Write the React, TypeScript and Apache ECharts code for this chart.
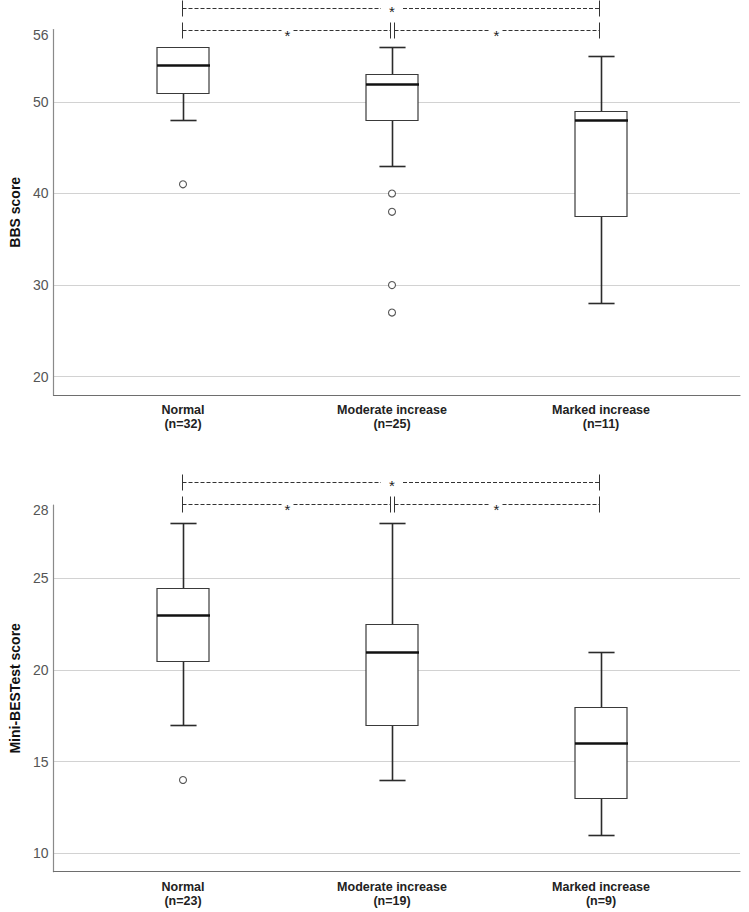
import { useEffect, useRef } from "react";
import * as echarts from "echarts";

// ---------- data ----------
const groups = ["Normal", "Moderate increase", "Marked increase"];
const bbsN = [32, 25, 11];
const miniN = [23, 19, 9];
// [lower whisker, Q1, median, Q3, upper whisker]
const bbsBoxes = [
  [48, 51, 54, 56, 56],
  [43, 48, 52, 53, 56],
  [28, 37.5, 48, 49, 55],
];
const bbsOutliers = [
  [0, 41],
  [1, 40],
  [1, 38],
  [1, 30],
  [1, 27],
];
const miniBoxes = [
  [17, 20.5, 23, 24.5, 28],
  [14, 17, 21, 22.5, 28],
  [11, 13, 16, 18, 21],
];
const miniOutliers = [[0, 14]];
const bbsTicks = [20, 30, 40, 50];
const bbsTopTick = "56";
const miniTicks = [10, 15, 20, 25];
const miniTopTick = "28";
const bbsRange = [18, 57.9];
const miniRange = [9, 29];
// [from group, to group, row, label]
const comparisons: [number, number, number, string][] = [
  [0, 2, 0, "*"],
  [0, 1, 1, "*"],
  [1, 2, 1, "*"],
];

const FONT = "'Liberation Sans', Arial, Helvetica, sans-serif";

const panels = [
  {
    name: "BBS score",
    boxes: bbsBoxes,
    outliers: bbsOutliers,
    n: bbsN,
    ticks: bbsTicks,
    topTick: bbsTopTick,
    range: bbsRange,
    top: 29.5,
    height: 365.5,
    rowY: [8, 30],
  },
  {
    name: "Mini-BESTest score",
    boxes: miniBoxes,
    outliers: miniOutliers,
    n: miniN,
    ticks: miniTicks,
    topTick: miniTopTick,
    range: miniRange,
    top: 505,
    height: 366.7,
    rowY: [482, 504],
  },
];

function renderBox(params: any, api: any) {
  const i = api.value(0);
  const lo = api.value(1);
  const q1 = api.value(2);
  const md = api.value(3);
  const q3 = api.value(4);
  const hi = api.value(5);
  const band = api.size([1, 0])[0];
  const half = band * 0.125;
  const cap = band * 0.0625;
  const x = Math.round(api.coord([i, md])[0]) + 0.5;
  const y = (v: number) => Math.round(api.coord([i, v])[1]) + 0.5;
  const wStyle = { stroke: "#2b2b2b", lineWidth: 1.6, fill: null };
  const children: any[] = [];
  if (hi > q3) {
    children.push({ type: "line", shape: { x1: x, y1: y(q3), x2: x, y2: y(hi) }, style: wStyle });
    children.push({ type: "line", shape: { x1: x - cap, y1: y(hi), x2: x + cap, y2: y(hi) }, style: wStyle });
  }
  if (lo < q1) {
    children.push({ type: "line", shape: { x1: x, y1: y(q1), x2: x, y2: y(lo) }, style: wStyle });
    children.push({ type: "line", shape: { x1: x - cap, y1: y(lo), x2: x + cap, y2: y(lo) }, style: wStyle });
  }
  children.push({
    type: "rect",
    shape: { x: Math.round(x - half), y: y(q3), width: Math.round(2 * half), height: y(q1) - y(q3) },
    style: { fill: "#ffffff", stroke: "#3a3a3a", lineWidth: 1.2 },
  });
  children.push({
    type: "line",
    shape: { x1: Math.round(x - half), y1: y(md), x2: Math.round(x + half), y2: y(md) },
    style: { stroke: "#111111", lineWidth: 2.6 },
  });
  return { type: "group", children };
}

function buildOption() {
  const grid: any[] = [];
  const xAxis: any[] = [];
  const yAxis: any[] = [];
  const series: any[] = [];
  panels.forEach((p, pi) => {
    const [min, max] = p.range;
    grid.push({ left: 44, top: p.top, width: 696, height: p.height });
    grid.push({ left: 78.5, top: p.top, width: 627, height: p.height });
    const ga = pi * 2;
    const gb = pi * 2 + 1;
    xAxis.push({
      gridIndex: ga,
      type: "value",
      min: 0,
      max: 1,
      axisLine: { show: true, onZero: false, lineStyle: { color: "#6e6e6e", width: 1.2 } },
      axisTick: { show: false },
      axisLabel: { show: false },
      splitLine: { show: false },
    });
    xAxis.push({
      gridIndex: gb,
      type: "category",
      data: groups.map((g, i) => `${g}\n(n=${p.n[i]})`),
      axisLine: { show: false },
      axisTick: { show: false },
      splitLine: { show: false },
      axisLabel: {
        margin: 8,
        fontSize: 12.5,
        fontWeight: "bold",
        color: "#222",
        lineHeight: 14,
        fontFamily: FONT,
        interval: 0,
      },
    });
    yAxis.push({
      gridIndex: ga,
      type: "value",
      min,
      max,
      splitNumber: 4,
      name: p.name,
      nameLocation: "middle",
      nameGap: 28,
      nameTextStyle: { fontWeight: "bold", fontSize: 14, color: "#111", fontFamily: FONT },
      axisLine: { show: true, onZero: false, lineStyle: { color: "#8a8a8a", width: 1.2 } },
      axisTick: { show: false },
      splitLine: {
        show: true,
        showMinLine: false,
        showMaxLine: false,
        lineStyle: { color: "#d2d2d2", width: 1 },
      },
      axisLabel: {
        showMinLabel: false,
        showMaxLabel: true,
        margin: 5,
        fontSize: 14,
        color: "#555",
        fontFamily: FONT,
        formatter: (v: number) =>
          Math.abs(v - max) < 1e-6 ? `{top|${p.topTick}}` : p.ticks.includes(v) ? String(v) : "",
        rich: {
          top: { fontSize: 14, color: "#555", fontFamily: FONT, padding: [10, 0, 0, 0] },
        },
      },
    });
    yAxis.push({ gridIndex: gb, type: "value", min, max, show: false });
    series.push({
      type: "custom",
      xAxisIndex: gb,
      yAxisIndex: gb,
      renderItem: renderBox,
      data: p.boxes.map((b, i) => [i, ...b]),
      encode: { x: 0, y: [1, 2, 3, 4, 5] },
      z: 3,
    });
    series.push({
      type: "scatter",
      xAxisIndex: gb,
      yAxisIndex: gb,
      data: p.outliers,
      symbol: "circle",
      symbolSize: 7,
      itemStyle: { color: "#ffffff", borderColor: "#555", borderWidth: 1.1, opacity: 1 },
      z: 4,
    });
  });
  return {
    animation: false,
    backgroundColor: "#ffffff",
    textStyle: { fontFamily: FONT },
    grid,
    xAxis,
    yAxis,
    series,
  };
}

function buildBrackets(chart: any) {
  const els: any[] = [];
  panels.forEach((p, pi) => {
    const gb = pi * 2 + 1;
    const px = (i: number) => chart.convertToPixel({ xAxisIndex: gb }, i) as number;
    comparisons.forEach(([a, b, row, label]) => {
      const y = Math.round(p.rowY[row]) + 0.5;
      const shared = (g: number) =>
        comparisons.filter((c) => c[2] === row && (c[0] === g || c[1] === g)).length > 1;
      const x1 = Math.round(px(a) + (shared(a) ? 2 : -1)) + 0.5;
      const x2 = Math.round(px(b) + (shared(b) ? -2 : -2)) + 0.5;
      const mid = (px(a) + px(b)) / 2;
      const gap = row === 0 ? 11 : 6;
      const ls = { stroke: "#333", lineWidth: 1, lineDash: [4, 2] };
      els.push({ type: "line", silent: true, shape: { x1, y1: y, x2: mid - gap, y2: y }, style: ls });
      els.push({ type: "line", silent: true, shape: { x1: mid + gap, y1: y, x2, y2: y }, style: ls });
      els.push({ type: "line", silent: true, shape: { x1, y1: y - 8, x2: x1, y2: y + 8 }, style: { stroke: "#333", lineWidth: 1 } });
      els.push({ type: "line", silent: true, shape: { x1: x2, y1: y - 8, x2: x2, y2: y + 8 }, style: { stroke: "#333", lineWidth: 1 } });
      els.push({
        type: "text",
        silent: true,
        style: {
          text: label,
          x: mid,
          y: row === 0 ? y + 3 : y + 5,
          fill: "#222",
          font: `15px ${FONT}`,
          align: "center",
          verticalAlign: "middle",
          textAlign: "center",
          textVerticalAlign: "middle",
        },
      });
    });
  });
  return els;
}

export default function App() {
  const ref = useRef<HTMLDivElement>(null);
  useEffect(() => {
    if (!ref.current) return;
    const chart = echarts.init(ref.current, undefined, { renderer: "svg" });
    chart.setOption(buildOption() as any);
    chart.setOption({ graphic: { elements: buildBrackets(chart) } } as any);
    return () => chart.dispose();
  }, []);
  return (
    <div
      ref={ref}
      style={{ position: "fixed", left: 0, top: 0, width: 749, height: 912, background: "#fff" }}
    />
  );
}
